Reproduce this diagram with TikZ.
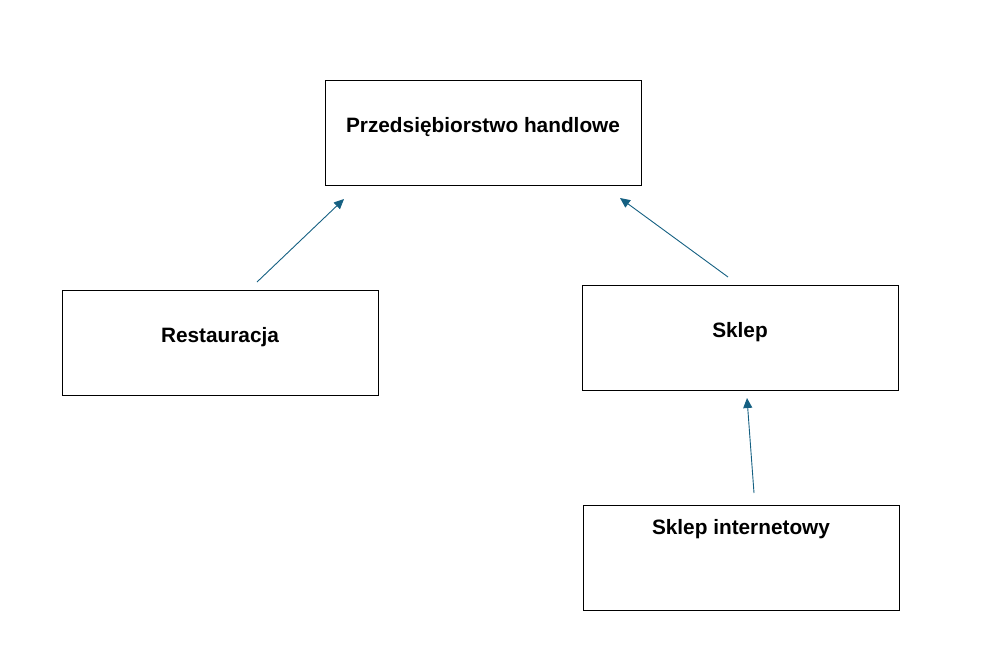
\documentclass[tikz,border=0pt]{standalone}
\usepackage{fontspec}
\setmainfont{Liberation Sans}
\usetikzlibrary{arrows.meta}
\definecolor{arrowblue}{HTML}{156082}
\tikzset{
  box/.style={draw=black, line width=0.9pt, minimum width=316pt, minimum height=105pt, inner sep=0pt},
  lbl/.style={font=\fontsize{20.8}{24}\selectfont\bfseries, inner sep=0pt},
  link/.style={draw=arrowblue, line width=0.9pt, -{Triangle[length=10pt,width=9pt]}}
}
\begin{document}
\begin{tikzpicture}[x=1pt,y=-1pt]
\useasboundingbox (0,0) rectangle (987,653);
\node[box] (top) at (483,132.5) {};
\node[lbl] (toplbl) at (483,127) {Przedsiębiorstwo handlowe};
\node[box] (rest) at (220,342.5) {};
\node[lbl] (restlbl) at (220,337) {Restauracja};
\node[box] (sklep) at (740,337.5) {};
\node[lbl] (skleplbl) at (740,332) {Sklep};
\node[box] (inet) at (741,557.5) {};
\node[lbl] (inetlbl) at (741,529) {Sklep internetowy};
\coordinate (a1s) at (257,282);
\coordinate (a1e) at (344,199);
\coordinate (a2s) at (728,277);
\coordinate (a2e) at (620,198);
\coordinate (a3s) at (754,493);
\coordinate (a3e) at (747,398);
\draw[link] (a1s) -- (a1e);
\draw[link] (a2s) -- (a2e);
\draw[link] (a3s) -- (a3e);
\end{tikzpicture}
\end{document}
